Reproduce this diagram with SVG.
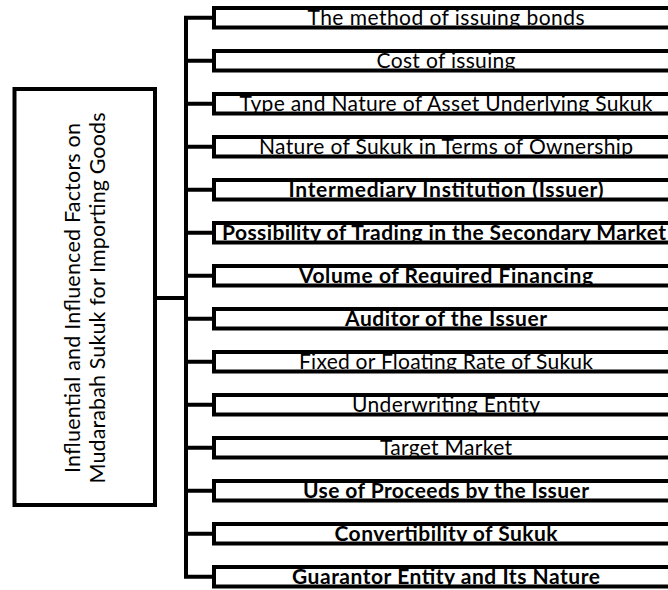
<svg xmlns="http://www.w3.org/2000/svg" width="668" height="590" viewBox="0 0 668 590">
<style>
.box{fill:none;stroke:#000;stroke-width:4}
.t{font-family:Lato,"Open Sans","Liberation Sans",sans-serif;font-size:21px;text-anchor:middle;fill:#000}
.b{font-weight:bold}
.lt{font-family:Lato,"Open Sans","Liberation Sans",sans-serif;font-size:21.5px;text-anchor:middle;fill:#000}
.c{fill:none;stroke:#000;stroke-width:4;stroke-linejoin:miter;stroke-linecap:square}
</style>
<defs>
<clipPath id="bc"><rect x="212" y="6" width="470" height="23.5"/></clipPath>
</defs>
<rect width="668" height="590" fill="#fff"/>
<g id="connectors">
<path class="c" d="M155 298H186M214 17.75H186V576.75H214M186 60.75H214M186 103.75H214M186 146.75H214M186 189.75H214M186 232.75H214M186 275.75H214M186 318.75H214M186 361.75H214M186 404.75H214M186 447.75H214M186 490.75H214M186 533.75H214"/>
</g>
<g id="root">
<rect class="box" x="14.5" y="89" width="140.5" height="416"/>
<text class="lt" transform="translate(80,298) rotate(-90)" textLength="350">Influential and Influenced Factors on</text>
<text class="lt" transform="translate(105,298) rotate(-90)" textLength="371">Mudarabah Sukuk for Importing Goods</text>
</g>
<g id="n1"><text class="t" x="446" y="24.5" clip-path="url(#bc)" textLength="277">The method of issuing bonds</text><rect class="box" x="214" y="8" width="470" height="19.5"/></g>
<g id="n2" transform="translate(0,43)"><text class="t" x="446" y="24.5" clip-path="url(#bc)" textLength="139">Cost of issuing</text><rect class="box" x="214" y="8" width="470" height="19.5"/></g>
<g id="n3" transform="translate(0,86)"><text class="t" x="446" y="24.5" clip-path="url(#bc)" textLength="413">Type and Nature of Asset Underlying Sukuk</text><rect class="box" x="214" y="8" width="470" height="19.5"/></g>
<g id="n4" transform="translate(0,129)"><text class="t" x="446" y="24.5" clip-path="url(#bc)" textLength="374">Nature of Sukuk in Terms of Ownership</text><rect class="box" x="214" y="8" width="470" height="19.5"/></g>
<g id="n5" transform="translate(0,172)"><text class="t b" x="446" y="24.5" clip-path="url(#bc)" textLength="315">Intermediary Institution (Issuer)</text><rect class="box" x="214" y="8" width="470" height="19.5"/></g>
<g id="n6" transform="translate(0,215)"><text class="t b" x="444" y="24.5" clip-path="url(#bc)" textLength="444">Possibility of Trading in the Secondary Market</text><rect class="box" x="214" y="8" width="470" height="19.5"/></g>
<g id="n7" transform="translate(0,258)"><text class="t b" x="446" y="24.5" clip-path="url(#bc)" textLength="294">Volume of Required Financing</text><rect class="box" x="214" y="8" width="470" height="19.5"/></g>
<g id="n8" transform="translate(0,301)"><text class="t b" x="446" y="24.5" clip-path="url(#bc)" textLength="202">Auditor of the Issuer</text><rect class="box" x="214" y="8" width="470" height="19.5"/></g>
<g id="n9" transform="translate(0,344)"><text class="t" x="446" y="24.5" clip-path="url(#bc)" textLength="294">Fixed or Floating Rate of Sukuk</text><rect class="box" x="214" y="8" width="470" height="19.5"/></g>
<g id="n10" transform="translate(0,387)"><text class="t" x="446" y="24.5" clip-path="url(#bc)" textLength="188">Underwriting Entity</text><rect class="box" x="214" y="8" width="470" height="19.5"/></g>
<g id="n11" transform="translate(0,430)"><text class="t" x="446" y="24.5" clip-path="url(#bc)" textLength="132">Target Market</text><rect class="box" x="214" y="8" width="470" height="19.5"/></g>
<g id="n12" transform="translate(0,473)"><text class="t b" x="446" y="24.5" clip-path="url(#bc)" textLength="286">Use of Proceeds by the Issuer</text><rect class="box" x="214" y="8" width="470" height="19.5"/></g>
<g id="n13" transform="translate(0,516)"><text class="t b" x="446" y="24.5" clip-path="url(#bc)" textLength="223">Convertibility of Sukuk</text><rect class="box" x="214" y="8" width="470" height="19.5"/></g>
<g id="n14" transform="translate(0,559)"><text class="t b" x="446" y="24.5" clip-path="url(#bc)" textLength="308">Guarantor Entity and Its Nature</text><rect class="box" x="214" y="8" width="470" height="19.5"/></g>
</svg>
